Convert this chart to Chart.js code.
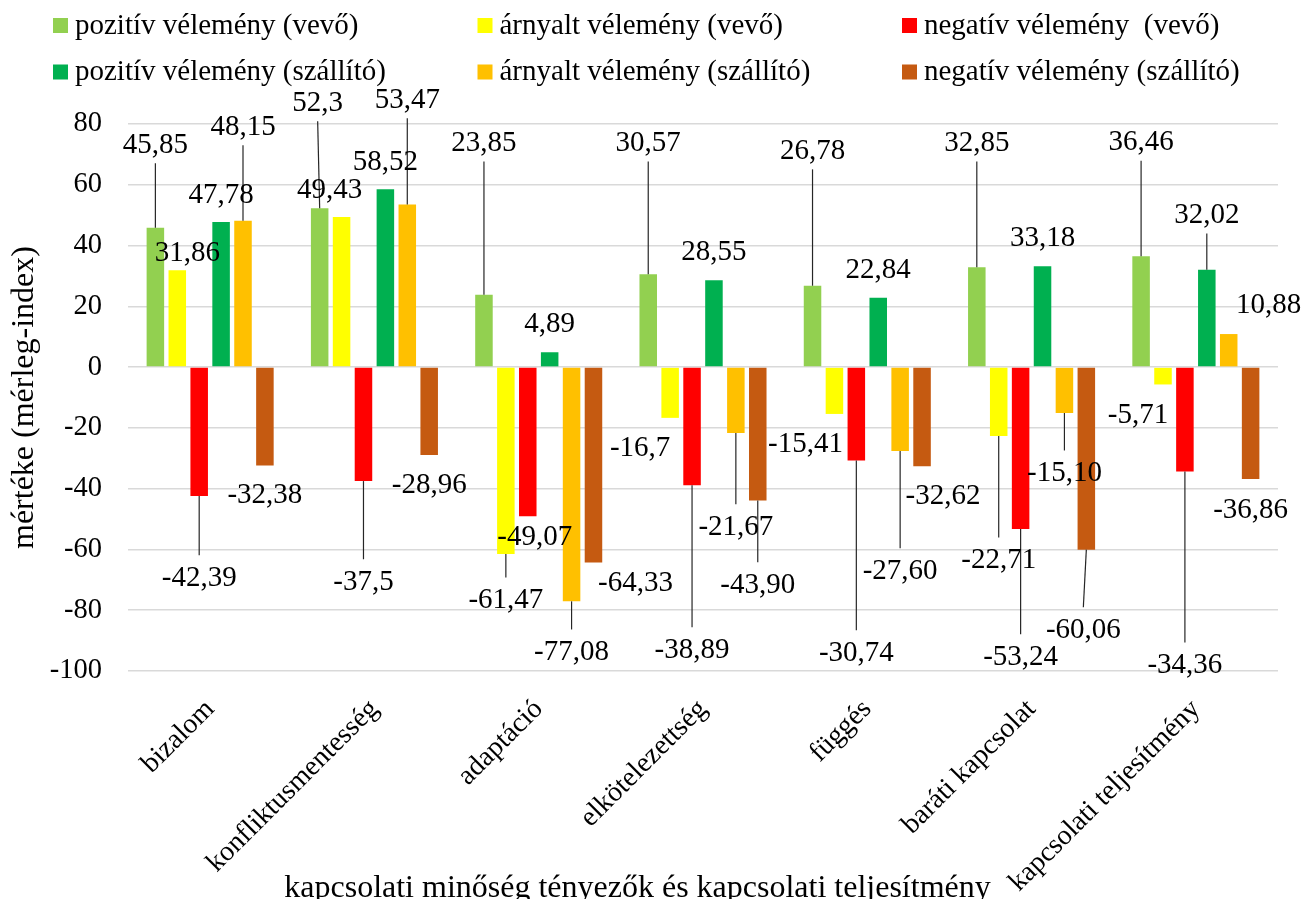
<!DOCTYPE html>
<html lang="hu">
<head>
<meta charset="utf-8">
<title>Kapcsolati minőség tényezők</title>
<script src="https://cdn.jsdelivr.net/npm/chart.js@4.4.1/dist/chart.umd.min.js"></script>
<style>
  html, body { margin: 0; padding: 0; background: #fff; }
  #wrap { width: 1303px; height: 899px; }
</style>
</head>
<body>
<div id="wrap"><canvas id="chart"></canvas></div>
<script>
const categories = ['bizalom', 'konfliktusmentesség', 'adaptáció', 'elkötelezettség', 'függés', 'baráti kapcsolat', 'kapcsolati teljesítmény'];

const seriesNames = [
  'pozitív vélemény (vevő)',
  'árnyalt vélemény (vevő)',
  'negatív vélemény  (vevő)',
  'pozitív vélemény (szállító)',
  'árnyalt vélemény (szállító)',
  'negatív vélemény (szállító)'
];
const seriesColors = ['#92D050', '#FFFF00', '#FF0000', '#00B050', '#FFC000', '#C55A11'];

const pozitivVevo = [45.85, 52.3, 23.85, 30.57, 26.78, 32.85, 36.46];
const arnyaltVevo = [31.86, 49.43, -61.47, -16.7, -15.41, -22.71, -5.71];
const negativVevo = [-42.39, -37.5, -49.07, -38.89, -30.74, -53.24, -34.36];
const pozitivSzallito = [47.78, 58.52, 4.89, 28.55, 22.84, 33.18, 32.02];
const arnyaltSzallito = [48.15, 53.47, -77.08, -21.67, -27.60, -15.10, 10.88];
const negativSzallito = [-32.38, -28.96, -64.33, -43.90, -32.62, -60.06, -36.86];
const seriesValues = [pozitivVevo, arnyaltVevo, negativVevo, pozitivSzallito, arnyaltSzallito, negativSzallito];
// vevő labels keep their own precision, szállító labels show two decimals
const labelDecimals = [null, null, null, 2, 2, 2];

const yMin = -100, yMax = 80, yStep = 20;
const yTitle = 'mértéke (mérleg-index)';
const xTitle = 'kapcsolati minőség tényezők és kapcsolati teljesítmény';

// where each data label sits (axis value) and its sideways nudge in px
const labelAt = [
  [73.0, 86.8, 73.6, 73.6, 71.0, 73.6, 73.8],
  [37.4, 58.0, -76.8, -26.8, -25.4, -63.6, -15.9],
  [-69.5, -70.8, -56.1, -93.2, -94.2, -95.5, -98.2],
  [56.5, 67.5, 14.0, 37.6, 31.8, 42.4, 49.9],
  [78.9, 87.8, -93.9, -52.7, -67.2, -35.0, 20.3],
  [-42.2, -38.9, -71.2, -71.8, -42.7, -86.6, -47.2]
];
const labelShift = [
  [0, -2, 0, 0, 0, 0, 0],
  [10, -12, 0, -30, -29, 0, -25],
  [0, 0, 7, 0, 0, 0, 0],
  [0, 0, 0, 0, 0, 0, 0],
  [0, 0, 0, 0, 0, 0, 40],
  [0, 0, 42, 0, 21, -3, 0]
];

const FONT = "'Liberation Serif', 'Times New Roman', serif";

function formatValue(v, d) {
  const s = d == null ? String(v) : v.toFixed(d);
  return s.replace('.', ',');
}

const gridLegend = {
  id: 'gridLegend',
  afterDraw(chart) {
    const ctx = chart.ctx;
    ctx.save();
    ctx.font = `29px ${FONT}`;
    ctx.textAlign = 'left';
    ctx.textBaseline = 'middle';
    chart.data.datasets.forEach((ds, i) => {
      const x = 53 + (i % 3) * 424.5;
      const y = 25.5 + Math.floor(i / 3) * 46.5;
      ctx.fillStyle = ds.backgroundColor;
      ctx.fillRect(x, y - 7.5, 15, 15);
      ctx.fillStyle = '#000';
      ctx.fillText(ds.label, x + 22, y + 0.5);
    });
    ctx.restore();
  }
};

const barLabels = {
  id: 'barLabels',
  afterDatasetsDraw(chart) {
    const ctx = chart.ctx;
    const yScale = chart.scales.y;
    ctx.save();
    ctx.strokeStyle = '#262626';
    ctx.lineWidth = 1.2;
    chart.data.datasets.forEach((ds, i) => {
      chart.getDatasetMeta(i).data.forEach((bar, j) => {
        const lx = bar.x + labelShift[i][j];
        const ly = yScale.getPixelForValue(labelAt[i][j]);
        if (Math.abs(ly - bar.y) > 40) {
          const end = ds.data[j] >= 0 ? ly + 18 : ly - 23;
          ctx.beginPath();
          ctx.moveTo(bar.x, bar.y);
          ctx.lineTo(lx, end);
          ctx.stroke();
        }
      });
    });
    ctx.font = `29px ${FONT}`;
    ctx.textAlign = 'center';
    ctx.textBaseline = 'middle';
    ctx.fillStyle = '#000';
    chart.data.datasets.forEach((ds, i) => {
      chart.getDatasetMeta(i).data.forEach((bar, j) => {
        const lx = bar.x + labelShift[i][j];
        const ly = yScale.getPixelForValue(labelAt[i][j]);
        ctx.fillText(formatValue(ds.data[j], labelDecimals[i]), lx, ly);
      });
    });
    ctx.restore();
  }
};

const bottomTitle = {
  id: 'bottomTitle',
  afterDraw(chart) {
    const ctx = chart.ctx;
    ctx.save();
    ctx.font = `32px ${FONT}`;
    ctx.textAlign = 'center';
    ctx.textBaseline = 'alphabetic';
    ctx.fillStyle = '#000';
    ctx.fillText(xTitle, 637.5, 897);
    ctx.restore();
  }
};

new Chart(document.getElementById('chart'), {
  type: 'bar',
  data: {
    labels: categories,
    datasets: seriesValues.map((vals, i) => ({
      label: seriesNames[i],
      data: vals,
      backgroundColor: seriesColors[i],
      borderWidth: 0,
      categoryPercentage: 0.8,
      barPercentage: 0.8
    }))
  },
  options: {
    responsive: true,
    maintainAspectRatio: false,
    animation: false,
    layout: { padding: { top: 124, right: 25, bottom: 0, left: 0 } },
    plugins: {
      legend: { display: false },
      tooltip: { enabled: false }
    },
    scales: {
      x: {
        grid: { display: false, drawTicks: false },
        border: { display: false },
        ticks: {
          autoSkip: false,
          maxRotation: 45,
          minRotation: 45,
          padding: 22,
          color: '#000',
          font: { family: FONT, size: 28 }
        },
        afterFit(scale) { scale.height = 228; }
      },
      y: {
        min: yMin,
        max: yMax,
        ticks: {
          stepSize: yStep,
          padding: 26,
          color: '#000',
          font: { family: FONT, size: 28.5 }
        },
        grid: { color: '#d9d9d9', lineWidth: 1.5, drawTicks: false },
        border: { display: false },
        title: {
          display: true,
          text: yTitle,
          color: '#000',
          font: { family: FONT, size: 32 },
          padding: { top: 5, bottom: 0 }
        },
        afterFit(scale) { scale.width = 128; }
      }
    }
  },
  plugins: [gridLegend, barLabels, bottomTitle]
});
</script>
</body>
</html>
